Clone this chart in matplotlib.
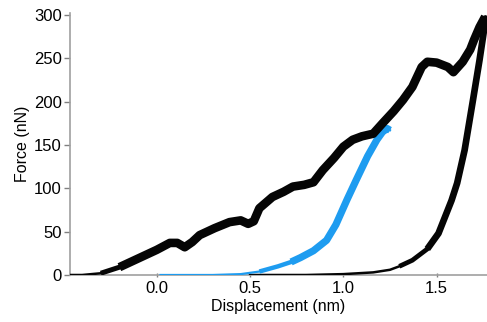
import matplotlib
matplotlib.use("Agg")
import matplotlib.pyplot as plt

plt.rcParams['font.family'] = ['Liberation Sans', 'DejaVu Sans']

# Loading curve (black)
load_x = [-0.465, -0.40, -0.30, -0.20, -0.10, 0.00, 0.07, 0.11, 0.15, 0.19, 0.23, 0.31,
          0.39, 0.45, 0.49, 0.52, 0.55, 0.62, 0.68, 0.73, 0.79, 0.84, 0.89, 0.95, 1.00,
          1.05, 1.10, 1.16, 1.21, 1.27, 1.32, 1.37, 1.42, 1.45, 1.50, 1.56, 1.59, 1.64,
          1.68, 1.70, 1.73, 1.76]
load_y = [0, 0, 2, 9, 19, 29, 37, 37, 32, 38, 46, 54,
          61, 63, 59, 62, 77, 90, 96, 102, 104, 107, 121, 135, 148,
          156, 160, 163, 175, 189, 202, 217, 240, 246, 245, 240, 234, 246,
          260, 271, 286, 298]

# Unloading curve (black)
unload_x = [1.765, 1.73, 1.695, 1.65, 1.61, 1.58, 1.51, 1.45, 1.37, 1.30, 1.25, 1.16,
            1.00, 0.80, 0.50]
unload_y = [298, 248, 202, 144, 106, 86, 48, 30, 17, 10, 6, 3, 1, 0, 0]

# Blue curve
blue_x = [0.02, 0.30, 0.45, 0.55, 0.65, 0.72, 0.77, 0.84, 0.91, 0.96, 1.02, 1.07,
          1.13, 1.18, 1.21, 1.235, 1.25]
blue_y = [0, 0, 1, 4, 10, 15, 20, 28, 40, 58, 87, 110, 137, 156, 165, 169, 167]

xticks = [0.0, 0.5, 1.0, 1.5]
xtick_labels = ['0.0', '0.5', '1.0', '1.5']
yticks = [0, 50, 100, 150, 200, 250, 300]

fig = plt.figure(figsize=(4.87, 3.22), dpi=100)
ax = fig.add_axes([0.1437, 0.146, 0.8563, 0.8137])

black = '#050505'
blue = '#1e9cf0'

# unloading: thin along baseline, thicker where rising
ax.plot(unload_x, unload_y, color=black, lw=1.8, zorder=3)
ax.plot(unload_x[:10], unload_y[:10], color=black, lw=3.4,
        solid_capstyle='butt', solid_joinstyle='round', zorder=3)
ax.plot(unload_x[:8], unload_y[:8], color=black, lw=4.8,
        solid_capstyle='butt', solid_joinstyle='round', zorder=3)

# blue: thin along baseline, thicker where rising
ax.plot(blue_x, blue_y, color=blue, lw=1.6, zorder=4)
ax.plot(blue_x[3:], blue_y[3:], color=blue, lw=3.2,
        solid_capstyle='butt', solid_joinstyle='round', zorder=4)
ax.plot(blue_x[5:], blue_y[5:], color=blue, lw=5.2,
        solid_capstyle='butt', solid_joinstyle='round', zorder=4)

# loading: thin at start, thick band afterwards
ax.plot(load_x, load_y, color=black, lw=1.8, zorder=5)
ax.plot(load_x[2:], load_y[2:], color=black, lw=3.6,
        solid_capstyle='butt', solid_joinstyle='round', zorder=5)
ax.plot(load_x[3:], load_y[3:], color=black, lw=6.2,
        solid_capstyle='butt', solid_joinstyle='round', zorder=5)

ax.set_xlim(-0.465, 1.77)
ax.set_ylim(0, 302.3)
ax.set_xticks(xticks)
ax.set_xticklabels(xtick_labels)
ax.set_yticks(yticks)

for s in ['top', 'right']:
    ax.spines[s].set_visible(False)
for s in ['left', 'bottom']:
    ax.spines[s].set_color('#a0a0a0')
    ax.spines[s].set_linewidth(1.2)

ax.tick_params(axis='y', direction='out', length=4, width=1, color='#808080',
               labelsize=12, pad=2)
ax.tick_params(axis='x', direction='inout', length=3, width=1, color='#808080',
               labelsize=12, pad=3)

ax.set_xlabel('Displacement (nm)', fontsize=11.5, labelpad=2)
ax.set_ylabel('Force (nN)', fontsize=11.5, labelpad=3)

fig.savefig('out.png', dpi=100)
